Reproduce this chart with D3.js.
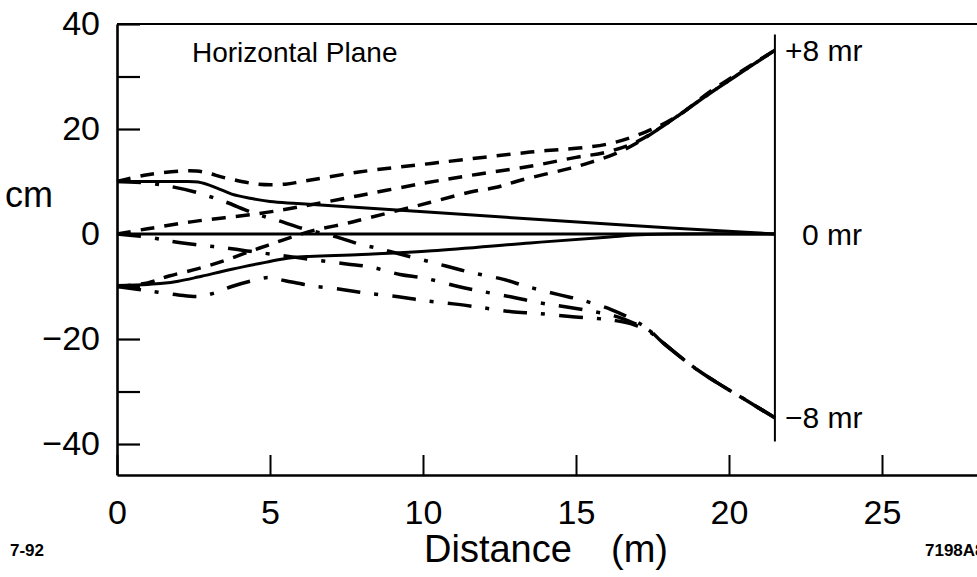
<!DOCTYPE html>
<html>
<head>
<meta charset="utf-8">
<script src="https://cdn.jsdelivr.net/npm/d3@7"></script>
<style>
  html, body { margin: 0; padding: 0; background: #fff; }
  svg text { font-family: "Liberation Sans", Arial, Helvetica, sans-serif; fill: #000; }
</style>
</head>
<body>
<svg id="chart" width="977" height="577"></svg>
<script>
// ---- data (distance in m, displacement in cm) ----
const xTickValues = [0, 5, 10, 15, 20, 25];
const yTickValues = [40, 30, 20, 10, 0, -10, -20, -30, -40];
const yLabelValues = [40, 20, 0, -20, -40];

// 0 mr rays (solid)
const solidUpper = [[0,10],[1,10],[2,10],[2.65,9.9],[3.25,8.8],[3.75,7.6],[4.35,6.8],[5.0,6.2],[5.9,5.8],[10.15,4.2],[16.05,1.9],[21.5,0]];
const solidMid   = [[0,0],[21.5,0]];
const solidLower = [[0,-9.8],[1,-9.6],[1.5,-9.4],[2,-9],[2.65,-8.2],[3.75,-6.7],[4.85,-5.4],[5.7,-4.5],[8,-3.9],[10.3,-3.2],[13.5,-1.7],[16,-0.6],[17.3,-0.1],[21.5,0]];

// +8 mr rays (dashed)
const dashA = [[0,10],[1,11.3],[2.6,12],[3.6,10.6],[4.6,9.5],[5.5,9.5],[6.05,10],[7.9,11.8],[10.5,13.6],[13.5,15.6],[16,17.1],[17.3,19.5],[18.3,22.4],[19.4,27.2],[21.5,35]];
const dashB = [[0,0],[1,1],[2.65,2.5],[4.65,3.9],[5.9,5.1],[7.9,7.3],[10.05,9.7],[11.8,11.4],[13.5,12.9],[15,14.6],[16,15.6],[17,17.6],[18,21.2],[19.4,26.9],[21.5,35]];
const dashC = [[0,-10],[1,-9.3],[1.7,-8],[2.65,-6.6],[3.55,-5],[4.35,-3.3],[4.95,-2.1],[5.7,-0.6],[6.5,0.8],[7.4,1.9],[8.3,3.2],[9.75,5.3],[10.55,6.5],[11.55,8],[12.4,8.9],[13.1,10.1],[14,11.4],[14.8,12.5],[15.5,13.7],[16.25,15.2],[17,17.4],[18,21.2],[19.4,26.9],[21.5,35]];

// -8 mr rays (dash-dot)
const dotD = [[0,10],[1,9.7],[1.8,9.0],[2.55,8.0],[3.05,7.1],[3.55,6.1],[4.55,3.8],[5.3,2.5],[6.1,1.0],[7.2,-0.6],[7.9,-1.9],[8.5,-2.7],[10.75,-6.1],[11.55,-7.3],[12.6,-8.6],[13.4,-10],[14.4,-11.5],[15.2,-12.6],[16.15,-14.4],[16.85,-16.3],[17.4,-18.3],[17.8,-20.5],[19,-26],[20.6,-31.8],[21.5,-35]];
const dotE = [[0,0],[1,-0.6],[1.8,-1.4],[2.55,-2],[3.15,-2.4],[3.75,-2.8],[4.35,-3.3],[5,-3.8],[5.9,-4.5],[7.5,-5.7],[8.3,-6.3],[9.25,-7.7],[10.05,-8.4],[11.15,-10],[11.9,-10.9],[12.9,-12],[13.7,-13],[14.8,-14],[15.5,-14.7],[16.25,-15.6],[16.9,-17],[17.4,-18.4],[17.8,-20.5],[19,-26],[20.6,-31.8],[21.5,-35]];
const dotF = [[0,-10],[1,-10.8],[2,-11.6],[2.65,-11.9],[3.15,-11.3],[3.75,-10],[4.35,-9],[4.95,-8.3],[5.5,-8.9],[6.3,-9.8],[7.4,-10.6],[8.2,-11.3],[9.25,-12],[10.05,-12.7],[11.15,-13.4],[11.9,-14],[12.9,-14.8],[13.7,-15.1],[14.8,-15.7],[15.7,-16.1],[16.3,-16.5],[16.9,-17.3],[17.4,-18.6],[17.8,-20.5],[19,-26],[20.6,-31.8],[21.5,-35]];

const solidSeries = [solidUpper, solidMid, solidLower];
const dashSeries = [dashA, dashB, dashC];
const dotSeries = [dotD, dotE, dotF];

const angleLabels = ["+8 mr", "0 mr", "\u22128 mr"];
const angleValues = [35, 0, -35];
const endDistance = 21.5;
const rightLineRange = [38, -39.5];

// ---- scales ----
const svg = d3.select("#chart");
const x = d3.scaleLinear().domain([0, 28.3]).range([117, 117 + 28.3 * 30.6]);
const y = d3.scaleLinear().domain([-45.9, 40]).range([475, 24]);

const line = d3.line().x(d => x(d[0])).y(d => y(d[1])).curve(d3.curveCatmullRom.alpha(0.5));

// frame top line
svg.append("line")
  .attr("x1", x(0)).attr("x2", 977)
  .attr("y1", y(40)).attr("y2", y(40))
  .attr("stroke", "#000").attr("stroke-width", 2.2);

// y axis
const yAxis = d3.axisLeft(y)
  .tickValues(yTickValues)
  .tickSizeInner(-23).tickSizeOuter(0).tickPadding(17)
  .tickFormat(d => yLabelValues.includes(d) ? d3.format("d")(d) : "");
const gy = svg.append("g").attr("transform", `translate(${x(0)},0)`).call(yAxis);
gy.select(".domain").attr("stroke-width", 2.6);
gy.selectAll(".tick line").attr("stroke-width", 2.2);
gy.selectAll(".tick text").attr("font-size", 34).attr("font-family", "Liberation Sans, Arial, sans-serif");

// x axis
const xAxis = d3.axisBottom(x)
  .tickValues(xTickValues)
  .tickSizeInner(-20).tickSizeOuter(0).tickPadding(25)
  .tickFormat(d3.format("d"));
const gx = svg.append("g").attr("transform", `translate(0,${y.range()[0]})`).call(xAxis);
gx.select(".domain").attr("stroke-width", 2.6);
gx.selectAll(".tick line").attr("stroke-width", 2);
gx.selectAll(".tick text").attr("font-size", 34).attr("font-family", "Liberation Sans, Arial, sans-serif");

// right vertical reference line
svg.append("line")
  .attr("x1", x(endDistance)).attr("x2", x(endDistance))
  .attr("y1", y(rightLineRange[0])).attr("y2", y(rightLineRange[1]))
  .attr("stroke", "#000").attr("stroke-width", 2);

// curves
const g = svg.append("g").attr("fill", "none").attr("stroke", "#000");
g.selectAll("path.solid").data(solidSeries).join("path")
  .attr("class", "solid").attr("d", line).attr("stroke-width", 3);
g.selectAll("path.dash").data(dashSeries).join("path")
  .attr("class", "dash").attr("d", line).attr("stroke-width", 3.5)
  .attr("stroke-dasharray", "14,10");
g.selectAll("path.dashdot").data(dotSeries).join("path")
  .attr("class", "dashdot").attr("d", line).attr("stroke-width", 3.5)
  .attr("stroke-dasharray", "24,14,4,14");

// angle labels at right
svg.selectAll("text.angle").data(angleLabels).join("text")
  .attr("class", "angle")
  .attr("x", (d, i) => x(endDistance) + (i === 1 ? 27 : 10))
  .attr("y", (d, i) => y(angleValues[i]))
  .attr("dy", "0.35em")
  .attr("font-size", 30)
  .text(d => d);

// titles
svg.append("text").attr("x", 192).attr("y", 62).attr("font-size", 28).text("Horizontal Plane");
svg.append("text").attr("x", 5).attr("y", 207).attr("font-size", 36).text("cm");
svg.append("text").attr("x", 424).attr("y", 562).attr("font-size", 38).text("Distance");
svg.append("text").attr("x", 611).attr("y", 562).attr("font-size", 38).text("(m)");
svg.append("text").attr("x", 10).attr("y", 556).attr("font-size", 17).attr("font-weight", "bold").text("7-92");
svg.append("text").attr("x", 925).attr("y", 556).attr("font-size", 17).attr("font-weight", "bold").text("7198A8");
</script>
</body>
</html>
